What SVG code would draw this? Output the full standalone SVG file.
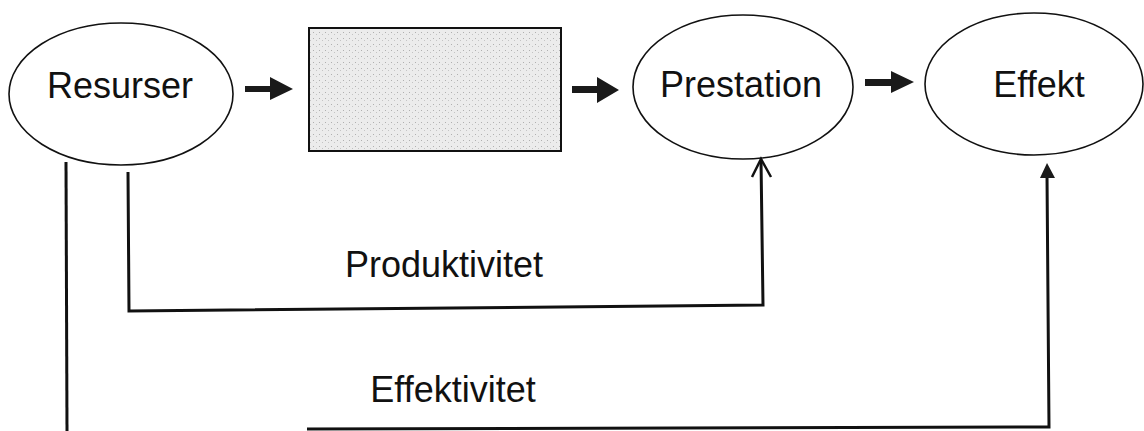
<svg xmlns="http://www.w3.org/2000/svg" width="1144" height="431" viewBox="0 0 1144 431">
<defs>
<style>
.node{fill:#fff;stroke:#111;stroke-width:1.6}
.lbl{font-family:"Liberation Sans",Arial,sans-serif;font-size:36px;fill:#111;text-anchor:middle}
.wire{fill:none;stroke:#111;stroke-width:3}
.blk{fill:#1a1a1a}
</style>
<pattern id="stip" width="6" height="6" patternUnits="userSpaceOnUse">
<rect width="6" height="6" fill="#ececec"/>
<rect x="1" y="2" width="1" height="1" fill="#b0b0b0"/>
<rect x="4" y="4" width="1" height="1" fill="#c4c4c4"/>
</pattern>
</defs>
<rect width="1144" height="431" fill="#fff"/>
<g id="resurser">
<ellipse class="node" cx="121" cy="94" rx="112" ry="71"/>
<text class="lbl" x="120" y="98">Resurser</text>
</g>
<g id="process">
<rect x="309" y="28" width="252" height="123" fill="url(#stip)" stroke="#111" stroke-width="2"/>
</g>
<g id="prestation">
<ellipse class="node" cx="743" cy="87" rx="110" ry="72"/>
<text class="lbl" x="741" y="97">Prestation</text>
</g>
<g id="effekt">
<ellipse class="node" cx="1034" cy="84" rx="109" ry="71"/>
<text class="lbl" x="1039" y="97">Effekt</text>
</g>
<g id="connectors">
<polygon class="blk" points="245,86 270,86 270,77 293,89 270,100 270,92 245,92"/>
<polygon class="blk" points="572,86 597,86 597,77 619,90 597,103 597,93 572,93"/>
<polygon class="blk" points="865,79 891,79 891,71 914,82 891,93 891,86 865,86"/>
<polyline class="wire" points="128,172 129,311 763,305 761,160"/>
<polyline fill="none" stroke="#111" stroke-width="2.5" points="752,177 761,159 771,177"/>
<line class="wire" x1="66" y1="162" x2="67" y2="431"/>
<polyline class="wire" points="307,429 1049,427 1047,175"/>
<polygon class="blk" points="1047,163 1055,178 1040,178"/>
<text class="lbl" x="444" y="277">Produktivitet</text>
<text class="lbl" x="453" y="402">Effektivitet</text>
</g>
</svg>
